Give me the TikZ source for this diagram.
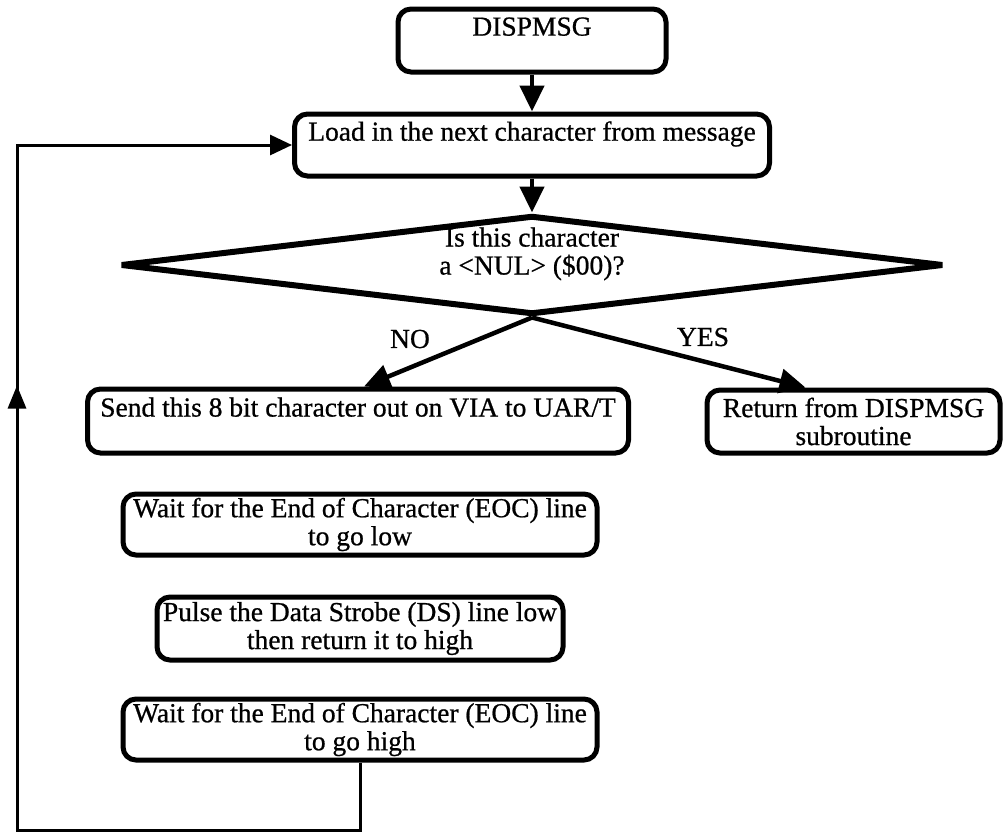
\documentclass[tikz,border=0pt]{standalone}
\usepackage{fontspec}
\setmainfont{Liberation Serif}[FakeBold=0.7]
\usetikzlibrary{shapes.geometric,arrows.meta,decorations.markings}

\begin{document}
\begin{tikzpicture}[x=1pt,y=-1pt,
  every node/.style={font=\fontsize{27.5}{28}\selectfont},
  procbox/.style={draw,line width=5pt,rounded corners=13pt,align=center,inner sep=0pt},
  decision/.style={draw,diamond,line width=6pt,line join=bevel,aspect=8,inner sep=0pt,
    align=center,minimum width=823pt,minimum height=99pt},
  flow/.style={line width=4.5pt,-{Triangle[width=24pt,length=26pt]}},
  loopline/.style={line width=3pt},
  lbl/.style={inner sep=0pt}]
\useasboundingbox (0,0) rectangle (1004,833);
\fill[white] (0,0) rectangle (1004,833);

% process boxes and the decision
\node[procbox,minimum width=268pt,minimum height=63pt] (start) at (532,40.5) {DISPMSG\\ \mbox{}};
\node[procbox,minimum width=475pt,minimum height=62pt] (load) at (532,145) {Load in the next character from message\\ \mbox{}};
\node[decision] (test) at (532,265) {Is this character\\ a <NUL> (\$00)?\\ \mbox{}};
\node[procbox,minimum width=541pt,minimum height=64pt] (send) at (358,421) {Send this 8 bit character out on VIA to UAR/T\\ \mbox{}};
\node[procbox,minimum width=293pt,minimum height=63pt] (ret) at (853.5,421.5) {Return from DISPMSG\\ subroutine};
\node[procbox,minimum width=474pt,minimum height=61pt] (eoclow) at (360,524.5) {Wait for the End of Character (EOC) line\\ to go low};
\node[procbox,minimum width=406pt,minimum height=63pt] (pulse) at (360,628.5) {Pulse the Data Strobe (DS) line low\\ then return it to high};
\node[procbox,minimum width=474pt,minimum height=61pt] (eochigh) at (360,729.5) {Wait for the End of Character (EOC) line\\ to go high};

% branch labels
\node[lbl] (no) at (410,339) {NO};
\node[lbl] (yes) at (703,337) {YES};

% connectors
\draw[flow] (start.south) -- (load.north);
\draw[flow] (load.south) -- (test.north);
\draw[flow] (test.south) -- ([xshift=6pt]send.north);
\draw[flow] (test.south) -- ([xshift=-48pt]ret.north);

% loop back to the next character
\coordinate (bl) at (17,830);
\coordinate (tl) at (17,145);
\draw[loopline,-{Triangle[width=20pt,length=22pt]},
  postaction={decorate,decoration={markings,
    mark=at position 855pt with {\arrow{Triangle[width=18pt,length=23pt]}}}}]
  (eochigh.south) |- (bl) -- (tl) -- (load.west);
\end{tikzpicture}
\end{document}
